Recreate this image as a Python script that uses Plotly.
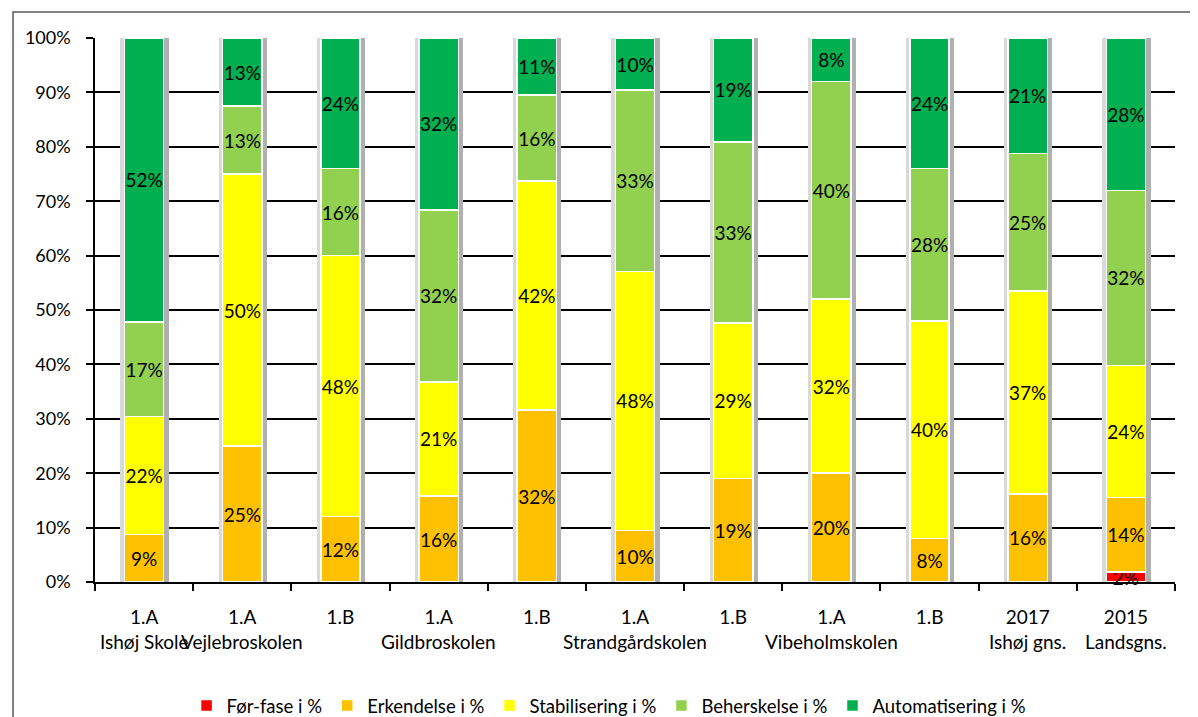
import plotly.graph_objects as go

# ---- data ----
categories = ["1.A Ishøj Skole", "1.A Vejlebroskolen", "1.B Vejlebroskolen",
              "1.A Gildbroskolen", "1.B Gildbroskolen", "1.A Strandgårdskolen",
              "1.B Strandgårdskolen", "1.A Vibeholmskolen", "1.B Vibeholmskolen",
              "2017 Ishøj gns.", "2015 Landsgns."]
tick_line1 = ["1.A", "1.A", "1.B", "1.A", "1.B", "1.A", "1.B", "1.A", "1.B", "2017", "2015"]
tick_line2 = ["Ishøj Skole", "Vejlebroskolen", "", "Gildbroskolen", "", "Strandgårdskolen",
              "", "Vibeholmskolen", "", "Ishøj gns.", "Landsgns."]

series_names = ["Før-fase i %", "Erkendelse i %", "Stabilisering i %",
                "Beherskelse i %", "Automatisering i %"]
for_fase = [0, 0, 0, 0, 0, 0, 0, 0, 0, 0, 1.8]
erkendelse = [8.7, 25, 12, 15.8, 31.6, 9.5, 19.0, 20, 8, 16.2, 13.7]
stabilisering = [21.7, 50, 48, 21.0, 42.1, 47.6, 28.6, 32, 40, 37.3, 24.3]
beherskelse = [17.4, 12.5, 16, 31.6, 15.8, 33.3, 33.3, 40, 28, 25.3, 32.2]
automatisering = [52.2, 12.5, 24, 31.6, 10.5, 9.6, 19.1, 8, 24, 21.2, 28.0]
series_values = [for_fase, erkendelse, stabilisering, beherskelse, automatisering]
colors = ["#FF0000", "#FFC000", "#FFFF00", "#92D050", "#00B050"]
y_ticks = list(range(0, 101, 10))
y_ticktext = [f"{v}%" for v in y_ticks]

totals = [sum(v) for v in zip(*series_values)]

FONT = "Lato"
FS = 19
BARW = 0.4          # bar width in category units
PX = 1 / 98.0       # one pixel in category units

fig = go.Figure()
# bar shadows (drawn on the base axis, beneath the bars)
fig.add_trace(go.Bar(x=categories, y=totals, offset=-BARW / 2, width=BARW + 5 * PX,
                     marker=dict(color="#b0b0b0", line=dict(width=0)),
                     showlegend=False, hoverinfo="skip", xaxis="x", yaxis="y"))
fig.add_trace(go.Bar(x=categories, y=totals, offset=-BARW / 2 - 4 * PX, width=4 * PX,
                     marker=dict(color="#d9d9d9", line=dict(width=0)),
                     showlegend=False, hoverinfo="skip", xaxis="x2", yaxis="y"))

for name, vals, col in zip(series_names, series_values, colors):
    labels = [f"{int(v + 0.5)}%" if v > 0 else "" for v in vals]
    fig.add_trace(go.Bar(
        x=categories, y=vals, name=name, xaxis="x3", yaxis="y",
        width=BARW,
        marker=dict(color=col, line=dict(color="white", width=1.5)),
        text=labels, textposition="inside", insidetextanchor="middle", textangle=0,
        textfont=dict(family=FONT, size=FS, color="black"),
        hoverinfo="skip", cliponaxis=False,
    ))

annotations = []
for cat, t2 in zip(categories, tick_line2):
    if t2:
        annotations.append(dict(x=cat, y=-0.110, xref="x", yref="paper", text=t2,
                                showarrow=False, yanchor="middle",
                                font=dict(family=FONT, size=FS, color="black")))

hidden_x = dict(type="category", overlaying="x", matches="x", visible=False,
                categoryorder="array", categoryarray=categories)

fig.update_layout(
    barmode="stack",
    bargap=0.6,
    width=1190, height=709,
    margin=dict(l=87, r=23, t=30, b=135, autoexpand=False),
    paper_bgcolor="white", plot_bgcolor="white",
    font=dict(family=FONT, size=FS, color="black"),
    uniformtext=dict(minsize=FS, mode="show"),
    showlegend=True,
    legend=dict(orientation="h", x=0.476, xanchor="center", y=-0.228, yanchor="middle",
                font=dict(family=FONT, size=18.5, color="black"), traceorder="normal",
                itemwidth=30, tracegroupgap=0),
    annotations=annotations,
    shapes=[dict(type="rect", xref="paper", yref="paper", x0=-0.0759, x1=1.03,
                 y0=-0.27, y1=1.0478, line=dict(color="#595959", width=1.5),
                 fillcolor="rgba(0,0,0,0)", layer="below")],
    xaxis2=hidden_x,
    xaxis3=hidden_x,
)
fig.update_layout(xaxis=dict(
    type="category", categoryorder="array", categoryarray=categories,
    tickmode="array", tickvals=categories, ticktext=tick_line1,
    tickson="boundaries", ticks="outside", ticklen=7, tickcolor="black", tickwidth=1.5,
    showline=True, linecolor="black", linewidth=1.5, showgrid=False,
    tickfont=dict(family=FONT, size=FS, color="black"), ticklabelstandoff=17,
))
fig.update_yaxes(
    range=[0, 100], tickmode="array", tickvals=y_ticks, ticktext=y_ticktext,
    ticks="outside", ticklen=7, tickcolor="black", tickwidth=1.5,
    showline=True, linecolor="black", linewidth=1.5,
    showgrid=True, gridcolor="black", gridwidth=1.5,
    tickfont=dict(family=FONT, size=FS - 1, color="black"), ticklabelstandoff=12,
    zeroline=False,
)
fig.write_html("out.html")
